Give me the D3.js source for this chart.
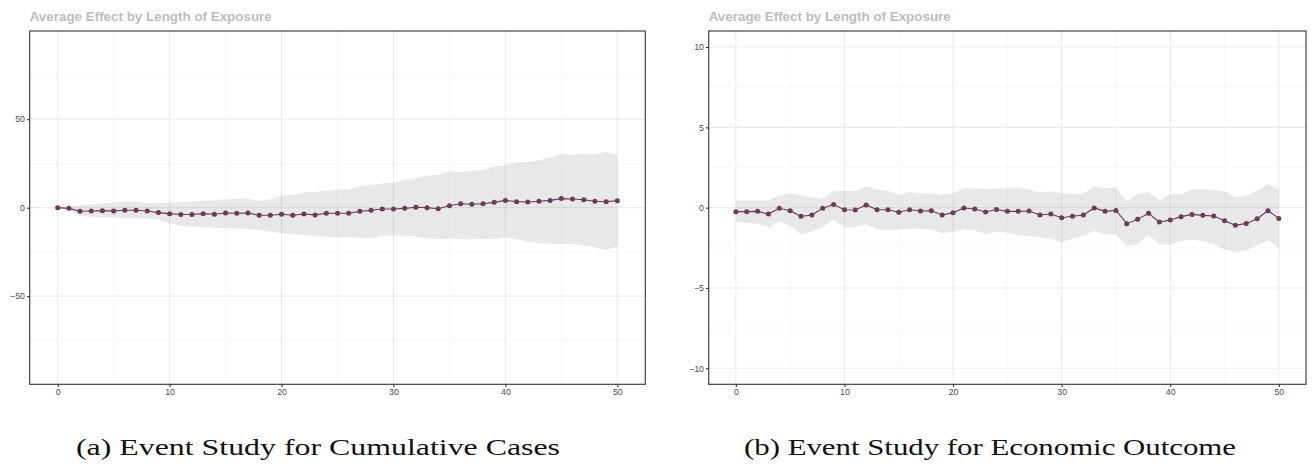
<!DOCTYPE html>
<html>
<head>
<meta charset="utf-8">
<script src="https://cdn.jsdelivr.net/npm/d3@7"></script>
<style>
  body { margin: 0; background: #fff; }
  svg { display: block; }
</style>
</head>
<body>
<script>
// Define SVG area dimensions
var svgWidth = 1313;
var svgHeight = 467;

// Event time (periods since exposure)
var exposure = d3.range(0, 51);

// Panel (a): cumulative cases
var casesEst = [0, -0.4, -2, -1.9, -1.7, -1.9, -1.5, -1.5, -1.9, -2.8,
  -3.4, -3.9, -3.9, -3.4, -3.7, -3.0, -3.2, -3.0, -4.3, -4.3,
  -3.7, -4.3, -3.6, -4.1, -3.2, -3.2, -3.2, -2.1, -1.5, -0.8,
  -0.8, -0.4, 0.2, 0, -0.6, 1.1, 2.2, 1.9, 2.2, 3.0,
  4.1, 3.4, 3.2, 3.6, 4.1, 5.1, 4.9, 4.5, 3.6, 3.4, 3.9];
var casesUpper = [0.3, 0.6, 1.3, 1.9, 2.4, 2.8, 3.4, 3.4, 2.4, 2.8,
  3.0, 3.0, 3.4, 3.9, 4.3, 4.7, 4.9, 5.1, 3.9, 4.7,
  6.9, 7.1, 8.6, 9.0, 9.4, 10.3, 10.3, 12.2, 12.9, 13.7,
  14.0, 15.5, 16.7, 18.2, 18.5, 20.6, 20.2, 20.8, 21.2, 23.4,
  24.0, 25.3, 25.8, 26.8, 28.3, 30.5, 29.8, 30.5, 30.0, 31.6, 29.4];
var casesLower = [-0.3, -1.4, -4.7, -5.1, -5.4, -5.6, -6.0, -6.0, -6.2, -6.9,
  -8.8, -10.3, -10.7, -11.1, -11.4, -11.6, -11.8, -12.0, -12.5, -13.5,
  -14.4, -15.0, -15.5, -15.9, -16.5, -16.7, -16.7, -17.0, -17.4, -15.9,
  -15.7, -15.9, -16.3, -17.4, -17.8, -17.4, -17.8, -17.8, -17.6, -17.8,
  -16.7, -17.8, -19.1, -20.0, -20.4, -20.6, -20.6, -21.5, -22.3, -24.2, -21.9];

// Panel (b): economic outcome
var econEst = [-0.25, -0.25, -0.23, -0.4, -0.04, -0.19, -0.54, -0.46, -0.04, 0.19,
  -0.13, -0.15, 0.17, -0.13, -0.13, -0.29, -0.13, -0.21, -0.19, -0.46,
  -0.31, -0.02, -0.08, -0.27, -0.12, -0.23, -0.23, -0.21, -0.46, -0.4,
  -0.63, -0.54, -0.46, -0.02, -0.23, -0.17, -1.0, -0.73, -0.35, -0.9,
  -0.77, -0.56, -0.42, -0.48, -0.52, -0.81, -1.1, -0.98, -0.69, -0.19, -0.67];
var econUpper = [0.46, 0.46, 0.46, 0.46, 0.77, 0.9, 0.77, 0.63, 0.56, 1.04,
  1.04, 1.04, 1.31, 1.15, 1.04, 0.79, 0.98, 0.88, 0.9, 0.81,
  0.9, 1.21, 1.19, 1.15, 1.17, 1.21, 1.27, 1.15, 0.94, 1.02,
  0.9, 0.85, 0.85, 1.35, 1.21, 1.27, 0.42, 0.85, 0.98, 0.48,
  0.83, 0.85, 1.15, 1.15, 1.1, 1.0, 0.65, 0.73, 1.06, 1.48, 1.1];
var econLower = [-0.9, -0.94, -0.98, -1.23, -0.9, -1.1, -1.67, -1.46, -1.25, -0.73,
  -1.25, -1.19, -1.04, -1.35, -1.4, -1.35, -1.31, -1.31, -1.35, -1.6,
  -1.5, -1.35, -1.4, -1.65, -1.48, -1.56, -1.71, -1.77, -1.85, -1.92,
  -2.17, -1.92, -1.77, -1.46, -1.65, -1.65, -2.4, -2.27, -1.71, -2.27,
  -2.33, -2.06, -2.02, -2.06, -2.27, -2.6, -2.77, -2.65, -2.33, -2.02, -2.48];

// Axis ticks
var xTicks = [0, 10, 20, 30, 40, 50];
var xMinor = [5, 15, 25, 35, 45];
var casesTicks = [-50, 0, 50];
var casesMinor = [-75, -25, 25, 75];
var econTicks = [-10, -5, 0, 5, 10];
var econMinor = [-7.5, -2.5, 2.5, 7.5];

var titleText = "Average Effect by Length of Exposure";

var svg = d3.select("body")
  .append("svg")
  .attr("width", svgWidth)
  .attr("height", svgHeight);

var pointColor = "#6b3b58";

function drawPanel(opts) {
  var x = d3.scaleLinear().domain([-2.5, 52.5]).range([opts.left, opts.right]);
  var y = d3.scaleLinear().domain(opts.yDomain).range([384.3, 31]);

  var g = svg.append("g");

  // title
  g.append("text")
    .attr("x", opts.left)
    .attr("y", 20.5)
    .attr("font-family", "Liberation Sans, Arial, sans-serif")
    .attr("font-weight", "bold")
    .attr("font-size", "13.4px")
    .attr("fill", "#bdbdbd")
    .text(titleText);

  // minor grid
  g.selectAll(".minx").data(xMinor).enter().append("line")
    .attr("x1", d => x(d)).attr("x2", d => x(d))
    .attr("y1", 31).attr("y2", 384.3)
    .attr("stroke", "#f2f2f2").attr("stroke-width", 0.6);
  g.selectAll(".miny").data(opts.minor).enter().append("line")
    .attr("x1", opts.left).attr("x2", opts.right)
    .attr("y1", d => y(d)).attr("y2", d => y(d))
    .attr("stroke", "#f2f2f2").attr("stroke-width", 0.6);

  // major grid
  g.selectAll(".majx").data(xTicks).enter().append("line")
    .attr("x1", d => x(d)).attr("x2", d => x(d))
    .attr("y1", 31).attr("y2", 384.3)
    .attr("stroke", "#ebebeb").attr("stroke-width", 1.1);
  g.selectAll(".majy").data(opts.ticks).enter().append("line")
    .attr("x1", opts.left).attr("x2", opts.right)
    .attr("y1", d => y(d)).attr("y2", d => y(d))
    .attr("stroke", "#ebebeb").attr("stroke-width", 1.1);

  // confidence band
  var area = d3.area()
    .x((d, i) => x(exposure[i]))
    .y0((d, i) => y(opts.lower[i]))
    .y1((d, i) => y(opts.upper[i]));
  g.append("path")
    .datum(opts.est)
    .attr("d", area)
    .attr("fill", "#808080")
    .attr("fill-opacity", 0.18);

  // line + points
  var line = d3.line()
    .x((d, i) => x(exposure[i]))
    .y(d => y(d));
  g.append("path")
    .datum(opts.est)
    .attr("d", line)
    .attr("fill", "none")
    .attr("stroke", pointColor)
    .attr("stroke-width", 1.1);
  g.selectAll(".pt").data(opts.est).enter().append("circle")
    .attr("cx", (d, i) => x(exposure[i]))
    .attr("cy", d => y(d))
    .attr("r", 2.5)
    .attr("fill", pointColor);

  // panel border
  g.append("rect")
    .attr("x", opts.left).attr("y", 31)
    .attr("width", opts.right - opts.left).attr("height", 384.3 - 31)
    .attr("fill", "none").attr("stroke", "#333333").attr("stroke-width", 1.1);

  // axes
  var bottomAxis = d3.axisBottom(x).tickValues(xTicks).tickSize(2.7).tickPadding(2);
  var leftAxis = d3.axisLeft(y).tickValues(opts.ticks).tickSize(2.7).tickPadding(2)
    .tickFormat(d => d < 0 ? "\u2212" + Math.abs(d) : d);

  var ax = g.append("g").attr("transform", "translate(0,384.3)").call(bottomAxis);
  var ay = g.append("g").attr("transform", `translate(${opts.left},0)`).call(leftAxis);
  [ax, ay].forEach(function(a) {
    a.select(".domain").remove();
    a.selectAll("line").attr("stroke", "#333333").attr("stroke-width", 1.1);
    a.selectAll("text")
      .attr("fill", "#4d4d4d")
      .attr("font-family", "Liberation Sans, Arial, sans-serif")
      .attr("font-size", "8.8px");
  });

  // caption
  svg.append("text")
    .attr("x", opts.capX)
    .attr("y", 455)
    .attr("text-anchor", "middle")
    .attr("font-family", "Liberation Serif, Times New Roman, serif")
    .attr("font-size", "24px")
    .attr("fill", "#111")
    .attr("textLength", opts.capW)
    .attr("lengthAdjust", "spacingAndGlyphs")
    .text(opts.caption);
}

drawPanel({
  left: 29.7, right: 645.3, yDomain: [-99.8, 99.8],
  ticks: casesTicks, minor: casesMinor,
  est: casesEst, upper: casesUpper, lower: casesLower,
  caption: "(a) Event Study for Cumulative Cases", capX: 318, capW: 484
});

drawPanel({
  left: 708.7, right: 1306, yDomain: [-11, 11],
  ticks: econTicks, minor: econMinor,
  est: econEst, upper: econUpper, lower: econLower,
  caption: "(b) Event Study for Economic Outcome", capX: 990, capW: 492
});
</script>
</body>
</html>
